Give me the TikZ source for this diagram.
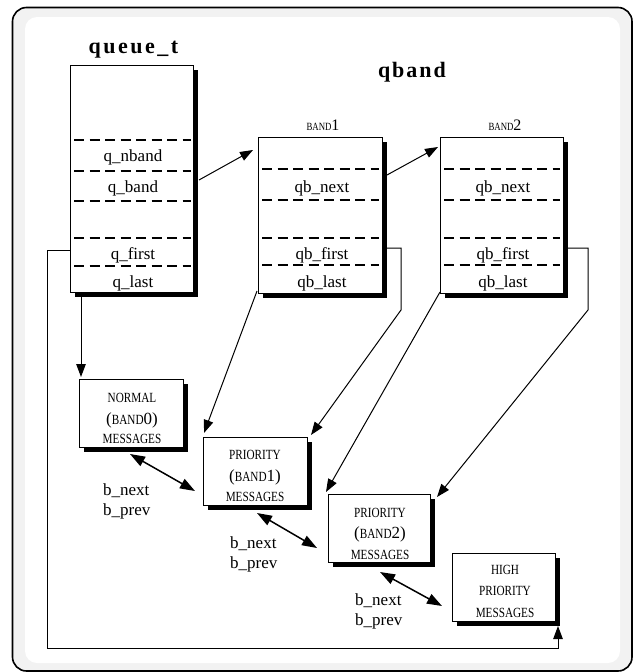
\documentclass[tikz,border=0pt]{standalone}
\usepackage{fontspec}
\usepackage{graphicx}
\setmainfont{Liberation Serif}
\usetikzlibrary{arrows.meta,shadows}
\definecolor{bandgray}{HTML}{F2F2F2}
\newcommand\fldfont{\fontsize{17}{17}\selectfont}
\newcommand\capt[1]{\scalebox{0.8}[1]{\fontsize{14}{14}\selectfont #1}}
\newcommand\capsm[1]{\scalebox{0.8}[1]{\fontsize{11}{11}\selectfont #1}}
\newcommand\parfont{\fontsize{17}{17}\selectfont}
\newcommand\numfont{\fontsize{16}{16}\selectfont}
\newcommand\ttlfont{\fontsize{22}{22}\selectfont\bfseries}
\begin{document}
\begin{tikzpicture}[x=1pt,y=-1pt,
  box/.style={draw,line width=1pt,fill=white,inner sep=0pt,
    drop shadow={shadow xshift=5pt,shadow yshift=-5pt,fill=black,opacity=1}},
  mbox/.style={box,minimum width=103pt,minimum height=68pt},
  dthick/.style={dash pattern=on 10pt off 5.5pt,line width=1.6pt},
  dthin/.style={dash pattern=on 10pt off 5.5pt,line width=1.1pt},
  fld/.style={font=\fldfont,inner sep=0pt,anchor=base},
  captxt/.style={inner sep=0pt,anchor=base},
  lbl/.style={font=\fldfont,inner sep=0pt,anchor=base west},
  ttl/.style={font=\ttlfont,inner sep=0pt,anchor=base},
  arr/.style={line width=1pt,-{Triangle[length=13pt,width=9.5pt]}},
  darr/.style={line width=1.5pt,{Triangle[length=15pt,width=10.5pt]}-{Triangle[length=15pt,width=10.5pt]}}
]
\useasboundingbox (0,0) rectangle (635,672);
% frame
\draw[line width=1.6pt,fill=bandgray,rounded corners=14pt] (12.5,7.5) rectangle (632,671);
\fill[white,rounded corners=12pt] (25,17) rectangle (620,663);

% titles
\node[ttl] (tq) at (133.5,53) {q\kern2.5pt u\kern2.5pt e\kern2.5pt u\kern2.5pt e\kern2.5pt \_\kern2.5pt t};
\node[ttl] (tb) at (412,77) {q\kern2pt b\kern2pt a\kern2pt n\kern2pt d};

% queue_t box
\node[box,minimum width=123pt,minimum height=227pt] (q) at (131.5,178.5) {};
\draw[dthick] (74,140) -- (191,140);
\draw[dthin] (74,171) -- (191,171);
\draw[dthin] (74,201) -- (191,201);
\draw[dthick] (74,238) -- (191,238);
\draw[dthin] (74,266) -- (191,266);
\node[fld] (qnb) at (133,161.5) {q\_nband};
\node[fld] (qbd) at (133,192) {q\_band};
\node[fld] (qfs) at (133,259.5) {q\_first};
\node[fld] (qls) at (133,287.5) {q\_last};

% BAND1 box
\node[box,minimum width=124pt,minimum height=156pt] (b1) at (320,215) {};
\node[captxt] (b1l) at (323,130) {\capsm{BAND}\numfont 1};
\draw[dthick] (262,169) -- (379,169);
\draw[dthin] (262,200) -- (379,200);
\draw[dthick] (262,238) -- (379,238);
\draw[dthin] (262,265) -- (379,265);
\node[fld] (b1n) at (322,192) {qb\_next};
\node[fld] (b1f) at (322,259.5) {qb\_first};
\node[fld] (b1s) at (322,287.5) {qb\_last};

% BAND2 box
\node[box,minimum width=123pt,minimum height=156pt] (b2) at (501.5,215) {};
\node[captxt] (b2l) at (505,130) {\capsm{BAND}\numfont 2};
\draw[dthick] (444,169) -- (560,169);
\draw[dthin] (444,200) -- (560,200);
\draw[dthick] (444,238) -- (560,238);
\draw[dthin] (444,265) -- (560,265);
\node[fld] (b2n) at (503,192) {qb\_next};
\node[fld] (b2f) at (503,259.5) {qb\_first};
\node[fld] (b2s) at (503,287.5) {qb\_last};

% message boxes
\node[mbox,minimum width=104pt] (m0) at (131,413) {};
\node[captxt] (m0a) at (132,402) {\capt{NORMAL}};
\node[captxt] (m0b) at (132,424) {\parfont(\capt{BAND}\parfont 0)};
\node[captxt] (m0c) at (132,443) {\capt{MESSAGES}};

\node[mbox,minimum width=104pt] (m1) at (255,471) {};
\node[captxt] (m1a) at (255,459) {\capt{PRIORITY}};
\node[captxt] (m1b) at (255,481) {\parfont(\capt{BAND}\parfont 1)};
\node[captxt] (m1c) at (255,501) {\capt{MESSAGES}};

\node[mbox,minimum width=102pt] (m2) at (379,528) {};
\node[captxt] (m2a) at (380,517) {\capt{PRIORITY}};
\node[captxt] (m2b) at (380,538) {\parfont(\capt{BAND}\parfont 2)};
\node[captxt] (m2c) at (380,559) {\capt{MESSAGES}};

\node[mbox] (m3) at (503.5,587) {};
\node[captxt] (m3a) at (505,574) {\capt{HIGH}};
\node[captxt] (m3b) at (505,595) {\capt{PRIORITY}};
\node[captxt] (m3c) at (505,617) {\capt{MESSAGES}};

% b_next / b_prev labels
\node[lbl] (l1a) at (103,495) {b\_next};
\node[lbl] (l1b) at (103,515) {b\_prev};
\node[lbl] (l2a) at (230,548) {b\_next};
\node[lbl] (l2b) at (230,568) {b\_prev};
\node[lbl] (l3a) at (355,605) {b\_next};
\node[lbl] (l3b) at (355,625) {b\_prev};

% connector coordinates
\coordinate (qbS) at (199,180);
\coordinate (b1T) at (253,150);
\coordinate (b1nS) at (387,175);
\coordinate (b2T) at (438,147);
\coordinate (qfS) at (70,250);
\coordinate (qfA) at (47,250);
\coordinate (qfB) at (47,648);
\coordinate (qfC) at (558,648);
\coordinate (m3B) at (558,626);
\coordinate (qlS) at (81,297);
\coordinate (m0T) at (81,377);
\coordinate (b1fS) at (385,248);
\coordinate (b1fA) at (401,248);
\coordinate (b1fB) at (401,310);
\coordinate (m1TR) at (311,435);
\coordinate (b2fS) at (563,248);
\coordinate (b2fA) at (588,248);
\coordinate (b2fB) at (588,310);
\coordinate (m2TR) at (437,497);
\coordinate (b1BL) at (257,291);
\coordinate (m1TL) at (204,433);
\coordinate (b2BL) at (440,292);
\coordinate (m2TL) at (326,492);
\coordinate (d1a) at (130,454);
\coordinate (d1b) at (195,491);
\coordinate (d2a) at (257,513);
\coordinate (d2b) at (317,548);
\coordinate (d3a) at (380,572);
\coordinate (d3b) at (442,606);

% connectors
\draw[arr] (qbS) -- (b1T);
\draw[arr] (b1nS) -- (b2T);
\draw[arr] (qfS) -- (qfA) -- (qfB) -- (qfC) -- (m3B);
\draw[arr] (qlS) -- (m0T);
\draw[arr] (b1fS) -- (b1fA) -- (b1fB) -- (m1TR);
\draw[arr] (b2fS) -- (b2fA) -- (b2fB) -- (m2TR);
\draw[arr] (b1BL) -- (m1TL);
\draw[arr] (b2BL) -- (m2TL);
\draw[darr] (d1a) -- (d1b);
\draw[darr] (d2a) -- (d2b);
\draw[darr] (d3a) -- (d3b);
\end{tikzpicture}
\end{document}
